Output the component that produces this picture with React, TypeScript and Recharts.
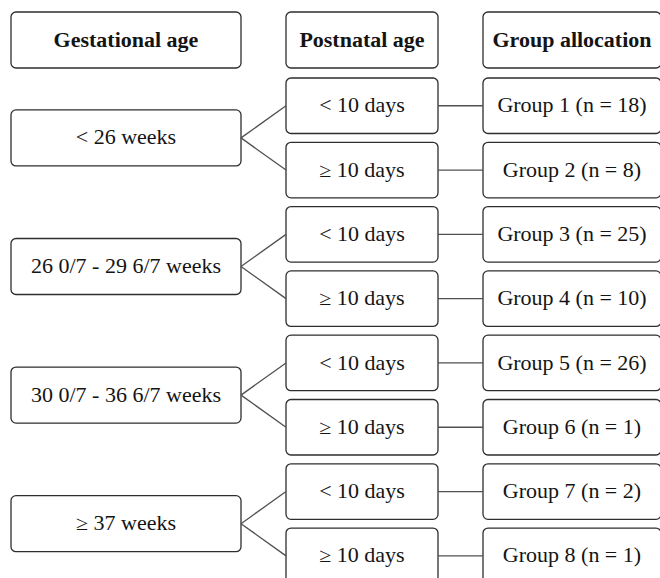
import React from "react";
import { ScatterChart, Scatter, XAxis, YAxis, ReferenceArea, ReferenceLine } from "recharts";

const headerLabels = ["Gestational age", "Postnatal age", "Group allocation"];
const gestationalLabels = ["< 26 weeks", "26 0/7 - 29 6/7 weeks", "30 0/7 - 36 6/7 weeks", "≥ 37 weeks"];
const postnatalLabels = ["< 10 days", "≥ 10 days"];
const groupNames = ["Group 1", "Group 2", "Group 3", "Group 4", "Group 5", "Group 6", "Group 7", "Group 8"];
const groupCounts = [18, 8, 25, 10, 26, 1, 2, 1];

const W = 660;
const H = 578;
const COLS = [
  { x1: 11, x2: 241 },
  { x1: 286, x2: 438 },
  { x1: 483, x2: 661 },
];
const HEADER = { y1: 12, y2: 68 };
const ROW_TOP = 78;
const ROW_PITCH = 64.3;
const ROW_H = 55.5;
const GA_H = 56;

const rowCenter = (i: number) => ROW_TOP + ROW_H / 2 + i * ROW_PITCH;
const gaCenter = (k: number) => (rowCenter(2 * k) + rowCenter(2 * k + 1)) / 2;
const colCenter = (c: number) => (COLS[c].x1 + COLS[c].x2) / 2;

type Box = { x1: number; x2: number; y1: number; y2: number };
type Node = { x: number; y: number; label: string; bold: boolean };

const boxes: Box[] = [];
const nodes: Node[] = [];
const segments: { x1: number; y1: number; x2: number; y2: number }[] = [];

headerLabels.forEach((label, c) => {
  boxes.push({ x1: COLS[c].x1, x2: COLS[c].x2, y1: HEADER.y1, y2: HEADER.y2 });
  nodes.push({ x: colCenter(c), y: (HEADER.y1 + HEADER.y2) / 2, label, bold: true });
});

gestationalLabels.forEach((label, k) => {
  const cy = gaCenter(k);
  boxes.push({ x1: COLS[0].x1, x2: COLS[0].x2, y1: cy - GA_H / 2, y2: cy + GA_H / 2 });
  nodes.push({ x: colCenter(0), y: cy, label, bold: false });
  postnatalLabels.forEach((pl, j) => {
    const i = 2 * k + j;
    const ry = rowCenter(i);
    segments.push({ x1: COLS[0].x2, y1: cy, x2: COLS[1].x1, y2: ry });
    boxes.push({ x1: COLS[1].x1, x2: COLS[1].x2, y1: ry - ROW_H / 2, y2: ry + ROW_H / 2 });
    nodes.push({ x: colCenter(1), y: ry, label: pl, bold: false });
    segments.push({ x1: COLS[1].x2, y1: ry, x2: COLS[2].x1, y2: ry });
    boxes.push({ x1: COLS[2].x1, x2: COLS[2].x2, y1: ry - ROW_H / 2, y2: ry + ROW_H / 2 });
    nodes.push({ x: colCenter(2), y: ry, label: `${groupNames[i]} (n = ${groupCounts[i]})`, bold: false });
  });
});

const FONT = 20;

const TextShape = (props: any) => {
  const { cx, cy, payload } = props;
  const style: React.CSSProperties = { fontFamily: "Liberation Serif", fontSize: FONT };
  if (payload.bold) style.fontWeight = 700;
  return (
    <text
      x={cx}
      y={cy + FONT * 0.33}
      textAnchor="middle"
      style={style}
      fill="#141414"
      transform={`translate(${cx},0) scale(1.1,1) translate(${-cx},0)`}
    >
      {payload.label}
    </text>
  );
};

const BoxShape = (p: any) => (
  <rect x={p.x} y={p.y} width={p.width} height={p.height} rx={5} ry={5} fill="none" stroke="#2e2e2e" strokeWidth={1.3} />
);

export default function App() {
  return (
    <div style={{ position: "absolute", left: 0, top: 0, width: W, height: H, background: "#fff" }}>
      <ScatterChart width={W} height={H} margin={{ top: 0, right: 0, bottom: 0, left: 0 }}>
        <XAxis type="number" dataKey="x" domain={[0, W]} hide allowDataOverflow />
        <YAxis type="number" dataKey="y" domain={[0, H]} reversed hide allowDataOverflow />
        {segments.map((s, i) => (
          <ReferenceLine
            key={`s${i}`}
            segment={[{ x: s.x1, y: s.y1 }, { x: s.x2, y: s.y2 }]}
            stroke="#505050"
            strokeWidth={1.3}
            ifOverflow="visible"
          />
        ))}
        {boxes.map((b, i) => (
          <ReferenceArea
            key={`b${i}`}
            x1={b.x1}
            x2={b.x2}
            y1={b.y1}
            y2={b.y2}
            ifOverflow="hidden"
            shape={BoxShape}
          />
        ))}
        <Scatter data={nodes} shape={TextShape} isAnimationActive={false} />
      </ScatterChart>
    </div>
  );
}
